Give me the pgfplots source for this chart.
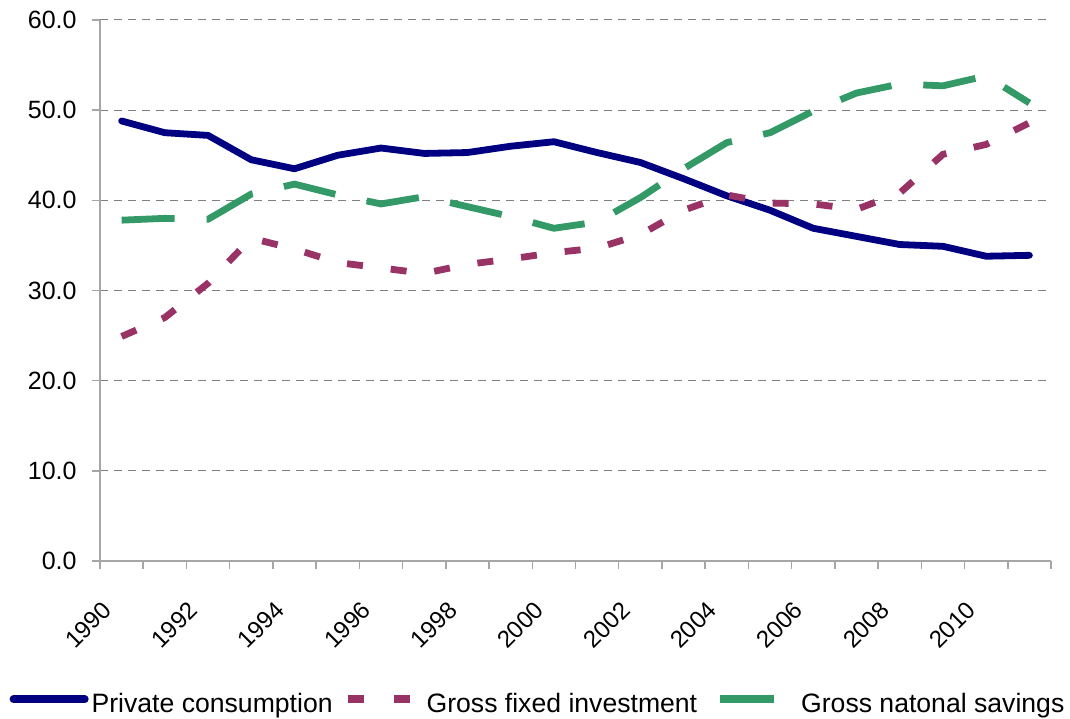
\documentclass[border=0pt]{standalone}
\usepackage{fontspec}
\setmainfont{Liberation Sans}
\usepackage{pgfplots}
\pgfplotsset{compat=1.18}
\definecolor{cblue}{HTML}{000080}
\definecolor{cpurple}{HTML}{993366}
\definecolor{cgreen}{HTML}{339966}
\begin{document}
\begin{tikzpicture}
\begin{axis}[name=ax, scale only axis, width=475.5pt, height=270.5pt,
  xmin=-0.5, xmax=21.5, ymin=0, ymax=60,
  axis lines*=left,
  axis line style={color=gray!70, line width=0.75pt},
  xtick={-0.5,1.5,...,19.5},
  xticklabels={1990,1992,1994,1996,1998,2000,2002,2004,2006,2008,2010},
  minor xtick={0.5,2.5,...,20.5,21.5},
  ytick={0,10,...,60},
  tick align=outside, major tick length=4pt, minor tick length=4pt,
  tick style={color=gray!70, line width=0.75pt},
  ymajorgrids,
  major grid style={color=gray, line width=0.5pt, dash pattern=on 4pt off 3pt},
  /pgf/number format/assume math mode=true,
  xticklabel style={font=\fontsize{12pt}{14pt}\selectfont, inner sep=0pt, xshift=3.6pt, yshift=-18.5pt, rotate=45, anchor=east},
  yticklabel style={/pgf/number format/fixed, /pgf/number format/fixed zerofill, /pgf/number format/precision=1,
    font=\fontsize{12.5pt}{15pt}\selectfont, inner sep=0pt, anchor=east},
  yticklabel shift=7.5pt,
  legend style={at={(axis description cs:0.5,0)}, anchor=center, xshift=-19.25pt, yshift=-71.8pt,
    draw=none, fill=none, legend columns=-1, column sep=0pt,
    font=\fontsize{13.3pt}{16pt}\selectfont, nodes={inner sep=0pt}, cells={anchor=base west}},
]
\addplot[cblue, line width=3.4pt, line cap=round, line join=round,
  legend image code/.code={\path[draw=none,fill=none] (0pt,0pt) rectangle (41pt,6.75pt); \draw[cblue, solid, line width=3.8pt, line cap=round] (1.9pt,6.75pt) -- (37.6pt,6.75pt);}]
  coordinates {(0,48.8)(1,47.5)(2,47.2)(3,44.5)(4,43.5)(5,45.0)(6,45.8)(7,45.2)(8,45.3)(9,46.0)(10,46.5)
  (11,45.3)(12,44.2)(13,42.4)(14,40.5)(15,38.9)(16,36.9)(17,36.0)(18,35.1)(19,34.9)(20,33.8)(21,33.9)};
\addplot[cpurple, line width=3.4pt, dash pattern=on 8pt off 14pt,
  legend image code/.code={\path[draw=none,fill=none] (0pt,0pt) rectangle (47pt,6.75pt); \draw[cpurple, solid, line width=3.8pt] (7.5pt,6.75pt)--(15.5pt,6.75pt) (30.5pt,6.75pt)--(38.5pt,6.75pt);}]
  coordinates {(0,24.9)(1,27.0)(2,30.8)(3,35.8)(4,34.6)(5,33.1)(6,32.5)(7,31.9)(8,32.9)(9,33.5)(10,34.2)
  (11,34.7)(12,36.2)(13,38.9)(14,40.6)(15,39.7)(16,39.6)(17,39.0)(18,40.8)(19,45.1)(20,46.2)(21,48.6)};
\addplot[cgreen, line width=3.4pt, dash pattern=on 26.5pt off 16pt,
  legend image code/.code={\path[draw=none,fill=none] (0pt,0pt) rectangle (52pt,6.75pt); \draw[cgreen, solid, line width=3.8pt] (11.5pt,6.75pt)--(38.5pt,6.75pt);}]
  coordinates {(0,37.8)(1,38.0)(2,37.9)(3,40.7)(4,41.8)(5,40.6)(6,39.6)(7,40.4)(8,39.3)(9,38.2)(10,36.9)
  (11,37.6)(12,40.3)(13,43.5)(14,46.4)(15,47.5)(16,49.9)(17,51.9)(18,52.9)(19,52.7)(20,53.8)(21,50.8)};
\legend{Private consumption, Gross fixed investment, Gross natonal savings}
\end{axis}
\pgfresetboundingbox
\path ([xshift=-50pt,yshift=-79pt]ax.south west) rectangle ([xshift=9.5pt,yshift=10pt]ax.north east);
\end{tikzpicture}
\end{document}
